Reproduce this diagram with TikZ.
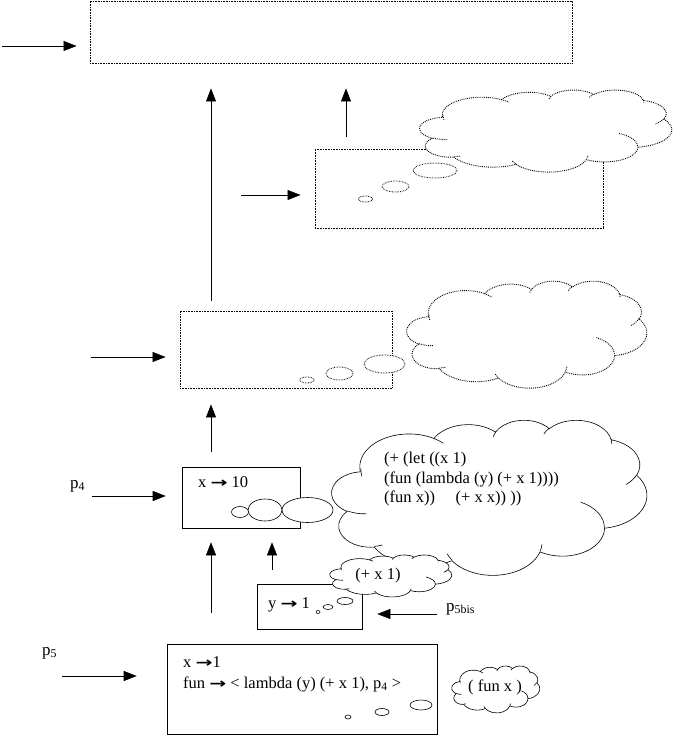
\documentclass[tikz,border=0pt]{standalone}
\usepackage{fontspec}
\setmainfont{Liberation Serif}
\newfontfamily\symfont{DejaVu Sans}
\usetikzlibrary{arrows.meta,shapes.geometric}
% bold arrow used in the bindings
\newcommand{\bindto}{{\symfont\bfseries\fontsize{14}{14}\selectfont\scalebox{1.45}[1]{\char"2192}}}
% elliptic arc from true angles: #1 start, #2 sweep, #3 x radius, #4 y radius
\newcommand{\garc}[4]{arc[start angle={atan2(#3*sin(#1),#4*cos(#1))},
  end angle={atan2(#3*sin(#1),#4*cos(#1))+mod(atan2(#3*sin(#1+#2),#4*cos(#1+#2))-atan2(#3*sin(#1),#4*cos(#1))+720,360)},
  x radius=#3, y radius=#4]}
% outline of a thought cloud, drawn in a 432 x 432 box
\newcommand{\cloudpath}{%
  (39.00,143.70) \garc{-190.487}{123.781}{67.53}{91.90}
  \garc{-144.102}{89.945}{53.33}{72.67}
  \garc{-145.808}{99.723}{43.65}{59.45}
  \garc{-130.986}{117.242}{48.57}{65.95}
  \garc{-78.709}{109.027}{53.33}{72.73}
  \garc{-46.267}{130.269}{67.75}{92.20}
  \garc{0.625}{114.033}{57.85}{78.67}
  \garc{22.452}{115.173}{67.52}{92.15}
  \garc{66.243}{75.711}{77.20}{105.43}
  \garc{-274.942}{146.736}{43.60}{59.18}
  \garc{-246.829}{152.519}{43.45}{59.45} -- cycle}
\newcommand{\cloudcurls}[1]{%
  \draw[#1] (46.93,261.77) \garc{86.742}{26.430}{43.45}{59.45};
  \draw[#1] (69.28,348.99) \garc{73.610}{11.447}{43.60}{59.18};
  \draw[#1] (164.78,390.90) \garc{137.624}{14.081}{67.52}{92.15};
  \draw[#1] (288.27,347.51) \garc{6.453}{15.998}{67.52}{92.15};
  \draw[#1] (341.29,229.54) \garc{-70.292}{70.917}{57.85}{78.67};
  \draw[#1] (417.98,153.54) \garc{30.318}{27.752}{53.33}{72.73};
  \draw[#1] (383.24,54.26) \garc{-13.744}{14.859}{48.57}{65.95};
  \draw[#1] (290.78,39.52) \garc{-149.181}{18.195}{48.57}{65.95};
  \draw[#1] (221.41,47.20) \garc{-163.494}{17.686}{43.65}{59.45};
  \draw[#1] (140.00,51.92) \garc{-66.707}{12.319}{67.53}{91.90};
  \draw[#1] (41.27,157.89) \garc{163.922}{19.509}{67.53}{91.90};}
% #1 style, #2 name, #3 centre, #4 width, #5 height
\newcommand{\thoughtcloud}[5]{%
  \node[minimum width=#4pt, minimum height=#5pt, inner sep=0pt] (#2) at (#3) {};
  \begin{scope}[shift={(#2.north west)}, xscale=#4/432, yscale=#5/432]
    \draw[#1, fill=white] \cloudpath;
    \cloudcurls{#1}
  \end{scope}}
\tikzset{
  arr/.style={-{Triangle[length=13pt,width=10pt]}, line width=0.6pt},
  envbox/.style={draw, rectangle, inner sep=0pt, line width=0.6pt},
  dotbox/.style={envbox, densely dotted, line width=0.9pt},
  bubble/.style={draw, ellipse, fill=white, inner sep=0pt, line width=0.6pt},
  dotbubble/.style={bubble, densely dotted, line width=0.9pt},
  solidline/.style={line width=0.6pt},
  dotline/.style={densely dotted, line width=0.9pt},
  lbl/.style={inner sep=0pt, font=\fontsize{16.5}{20}\selectfont},
  plbl/.style={inner sep=0pt, font=\fontsize{17}{17}\selectfont}
}
\begin{document}
\begin{tikzpicture}[x=1pt,y=-1pt]
    \useasboundingbox (0,0) rectangle (678,735);
    % Define the environment frames
    \node[dotbox, minimum width=482pt, minimum height=62pt] (global) at (331,32) {};
    \node[dotbox, minimum width=288pt, minimum height=79pt] (right) at (459,188.5) {};
    \node[dotbox, minimum width=212pt, minimum height=77pt] (mid) at (286,349.5) {};
    \node[envbox, minimum width=118pt, minimum height=61pt] (xten) at (241,497.5) {};
    \node[envbox, minimum width=105pt, minimum height=45pt] (yone) at (309.5,606.5) {};
    \node[envbox, minimum width=270pt, minimum height=90pt] (xone) at (302,689) {};
    % Thought bubbles
    \node[dotbubble, minimum width=44pt, minimum height=15pt] (r1) at (435,170.5) {};
    \node[dotbubble, minimum width=27pt, minimum height=11pt] (r2) at (395.5,186.5) {};
    \node[dotbubble, minimum width=14pt, minimum height=6pt] (r3) at (365.5,199) {};
    \node[dotbubble, minimum width=41pt, minimum height=18pt] (m1) at (384.5,364) {};
    \node[dotbubble, minimum width=27pt, minimum height=13pt] (m2) at (339.5,373.5) {};
    \node[dotbubble, minimum width=14pt, minimum height=6pt] (m3) at (307,380) {};
    \node[bubble, minimum width=51pt, minimum height=25pt] (x1) at (307.5,510) {};
    \node[bubble, minimum width=34pt, minimum height=22pt] (x2) at (265,510) {};
    \node[bubble, minimum width=17pt, minimum height=11pt] (x3) at (240,512) {};
    \node[bubble, minimum width=16pt, minimum height=7pt] (y1) at (345,601) {};
    \node[bubble, minimum width=10pt, minimum height=5pt] (y2) at (328,607) {};
    \node[bubble, minimum width=4pt, minimum height=3pt] (y3) at (318,612) {};
    \node[bubble, minimum width=22pt, minimum height=10pt] (f1) at (421,705) {};
    \node[bubble, minimum width=14pt, minimum height=7pt] (f2) at (382,712) {};
    \node[bubble, minimum width=6pt, minimum height=4pt] (f3) at (348,717) {};
    % Clouds
    \thoughtcloud{dotline}{rcloud}{546,131}{252}{82}
    \thoughtcloud{dotline}{mcloud}{527,334.5}{240}{107}
    \thoughtcloud{solidline}{code}{489.5,497.5}{315}{155}
    \thoughtcloud{solidline}{body}{391,576}{122}{42}
    \thoughtcloud{solidline}{call}{496,689.5}{88}{47}
    % Texts
    \node[lbl, anchor=base west] (bx) at (198,487) {x \bindto\ 10};
    \node[lbl, anchor=base west] (by) at (268,608) {y \bindto\ 1};
    \node[lbl, anchor=base west] (bf1) at (183,667) {x \bindto1};
    \node[lbl, anchor=base west] (bf2) at (183,688)
        {fun \bindto\ < lambda (y) (+ x 1), p\textsubscript{4} >};
    \node[lbl, anchor=base west] (prog1) at (384,463) {(+ (let ((x 1)};
    \node[lbl, anchor=base west] (prog2) at (384,483) {(fun (lambda (y) (+ x 1))))};
    \node[lbl, anchor=base west] (prog3) at (384,502) {(fun x))\quad\ (+ x x)) ))};
    \node[lbl] (tb) at (378,576) {(+ x 1)};
    \node[lbl] (tc) at (495,687) {( fun x )};
    \node[plbl, anchor=base west] (p4) at (70,488) {p\textsubscript{4}};
    \node[plbl, anchor=base west] (p5) at (42,655) {p\textsubscript{5}};
    \node[plbl, anchor=base west] (p5b) at (446,611) {p\textsubscript{5bis}};
    % Add pointers
    \coordinate (e1) at (2,46);
    \coordinate (e2) at (241,195);
    \coordinate (e3) at (91,357);
    \coordinate (e4) at (92,496);
    \coordinate (e5) at (62,676);
    \coordinate (e6) at (437,614);
    \draw[arr, shorten >=13pt] (e1) -- (e1 -| global.west);
    \draw[arr, shorten >=14pt] (e2) -- (e2 -| right.west);
    \draw[arr, shorten >=14pt] (e3) -- (e3 -| mid.west);
    \draw[arr, shorten >=16pt] (e4) -- (e4 -| xten.west);
    \draw[arr, shorten >=30pt] (e5) -- (e5 -| xone.west);
    \draw[arr, shorten >=15pt] (e6) -- (e6 -| yone.east);
    % Add parent links
    \coordinate (colA) at (211,0);
    \coordinate (colB) at (272,0);
    \coordinate (colC) at (346,0);
    \draw[arr, shorten <=10pt, shorten >=25pt] (colA |- mid.north) -- (colA |- global.south);
    \draw[arr, shorten <=12pt, shorten >=25pt] (colC |- right.north) -- (colC |- global.south);
    \draw[arr, shorten <=15pt, shorten >=16pt] (colA |- xten.north) -- (colA |- mid.south);
    \draw[arr, shorten <=31pt, shorten >=14pt] (colA |- xone.north) -- (colA |- xten.south);
    \draw[arr, shorten <=14pt, shorten >=14pt] (colB |- yone.north) -- (colB |- xten.south);
\end{tikzpicture}
\end{document}
